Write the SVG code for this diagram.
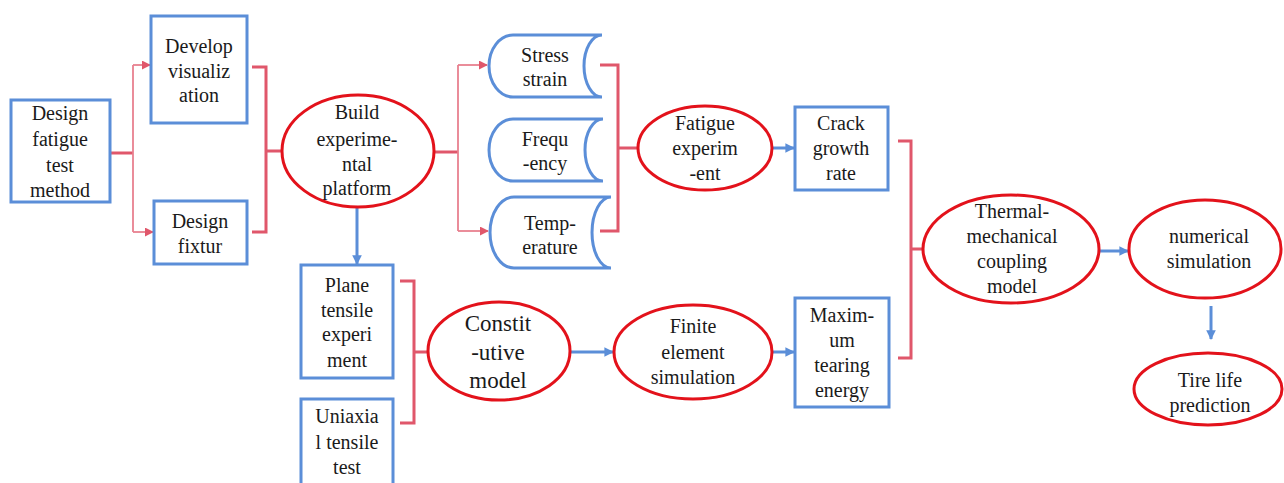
<svg xmlns="http://www.w3.org/2000/svg" width="1284" height="483" viewBox="0 0 1284 483">
<defs>
<style>
.box{fill:#fff;stroke:#5b8ed8;stroke-width:3}
.ell{fill:#fff;stroke:#e3121b;stroke-width:3}
.t{font-family:'Liberation Serif','DejaVu Serif',serif;font-size:20px;fill:#1a1a1a;text-anchor:middle}
.big{font-size:23px}
.pk{fill:none;stroke:#e0576b;stroke-width:3}
.pkt{fill:none;stroke:#e8808f;stroke-width:1.8}
.bl{fill:none;stroke:#5b8ed8;stroke-width:3}
</style>
<marker id="ap" viewBox="0 0 10 10" refX="9" refY="5" markerWidth="5" markerHeight="5" orient="auto" markerUnits="strokeWidth"><path d="M0,0 L10,5 L0,10 z" fill="#e0576b"/></marker>
<marker id="ab" viewBox="0 0 10 10" refX="9" refY="5" markerWidth="3.2" markerHeight="3.2" orient="auto" markerUnits="strokeWidth"><path d="M0,0 L10,5 L0,10 z" fill="#5b8ed8"/></marker>
</defs>
<rect width="1284" height="483" fill="#fff"/>

<g id="connectors">
<path class="pk" d="M110,153 H133"/>
<path class="pkt" d="M133,65 V232"/>
<path class="pkt" d="M133,65 H150" marker-end="url(#ap)"/>
<path class="pkt" d="M133,232 H153" marker-end="url(#ap)"/>
<path class="pk" d="M252,67 H266 V232 H252 M266,151 H282"/>
<path class="pk" d="M435,152 H458"/>
<path class="pkt" d="M458,65 V231"/>
<path class="pkt" d="M458,65 H487" marker-end="url(#ap)"/>
<path class="pkt" d="M458,231 H488" marker-end="url(#ap)"/>
<path class="pk" d="M600,65 H618 V231 H600 M618,148 H638"/>
<path class="bl" d="M773,148 H794" marker-end="url(#ab)"/>
<path class="bl" d="M357,207 V264" marker-end="url(#ab)"/>
<path class="pk" d="M400,281 H414 V423 H400 M414,352 H428"/>
<path class="bl" d="M570,352 H613" marker-end="url(#ab)"/>
<path class="bl" d="M773,352 H794" marker-end="url(#ab)"/>
<path class="pk" d="M898,141 H911 V358 H898 M911,249 H923"/>
<path class="bl" d="M1100,251 H1128" marker-end="url(#ab)"/>
<path class="bl" d="M1211,306 V339" marker-end="url(#ab)"/>
</g>

<g id="design-fatigue">
<rect class="box" x="11" y="100" width="99" height="102"/>
<text class="t" x="60" y="120">Design</text>
<text class="t" x="60" y="146">fatigue</text>
<text class="t" x="60" y="172">test</text>
<text class="t" x="60" y="197">method</text>
</g>

<g id="develop-visualization">
<rect class="box" x="151" y="16" width="96" height="107"/>
<text class="t" x="199" y="53">Develop</text>
<text class="t" x="199" y="78">visualiz</text>
<text class="t" x="199" y="102">ation</text>
</g>

<g id="design-fixtur">
<rect class="box" x="154" y="201" width="93" height="63"/>
<text class="t" x="200" y="228">Design</text>
<text class="t" x="200" y="253">fixtur</text>
</g>

<g id="build-platform">
<ellipse class="ell" cx="358" cy="151" rx="76" ry="56"/>
<text class="t" x="357" y="119">Build</text>
<text class="t" x="357" y="146">experime-</text>
<text class="t" x="357" y="171">ntal</text>
<text class="t" x="357" y="195">platform</text>
</g>

<g id="stress-strain">
<path class="box" d="M513,35 H602 A18,31 0 0 0 602,97 H513 A24,31 0 0 1 513,35 Z"/>
<text class="t" x="545" y="62">Stress</text>
<text class="t" x="545" y="86">strain</text>
</g>

<g id="frequency">
<path class="box" d="M513,119 H603 A18,31 0 0 0 603,181 H513 A24,31 0 0 1 513,119 Z"/>
<text class="t" x="545" y="146">Frequ</text>
<text class="t" x="545" y="170">-ency</text>
</g>

<g id="temperature">
<path class="box" d="M514,197 H611 A19,35.5 0 0 0 611,268 H514 A24,35.5 0 0 1 514,197 Z"/>
<text class="t" x="550" y="230">Temp-</text>
<text class="t" x="550" y="254">erature</text>
</g>

<g id="fatigue-experiment">
<ellipse class="ell" cx="705" cy="148" rx="67" ry="42"/>
<text class="t" x="705" y="130">Fatigue</text>
<text class="t" x="705" y="155">experim</text>
<text class="t" x="705" y="180">-ent</text>
</g>

<g id="crack-growth">
<rect class="box" x="795" y="107" width="93" height="83"/>
<text class="t" x="841" y="130">Crack</text>
<text class="t" x="841" y="155">growth</text>
<text class="t" x="841" y="180">rate</text>
</g>

<g id="plane-tensile">
<rect class="box" x="301" y="265" width="92" height="113"/>
<text class="t" x="347" y="292">Plane</text>
<text class="t" x="347" y="317">tensile</text>
<text class="t" x="347" y="341">experi</text>
<text class="t" x="347" y="367">ment</text>
</g>

<g id="uniaxial-tensile">
<rect class="box" x="301" y="399" width="92" height="95"/>
<text class="t" x="347" y="423">Uniaxia</text>
<text class="t" x="347" y="449">l tensile</text>
<text class="t" x="347" y="474">test</text>
</g>

<g id="constitutive-model">
<ellipse class="ell" cx="499" cy="351" rx="71" ry="49"/>
<text class="t big" x="498" y="331">Constit</text>
<text class="t big" x="498" y="360">-utive</text>
<text class="t big" x="498" y="388">model</text>
</g>

<g id="finite-element">
<ellipse class="ell" cx="693" cy="352" rx="79" ry="47"/>
<text class="t" x="693" y="333">Finite</text>
<text class="t" x="693" y="359">element</text>
<text class="t" x="693" y="384">simulation</text>
</g>

<g id="maximum-tearing">
<rect class="box" x="795" y="298" width="94" height="109"/>
<text class="t" x="842" y="322">Maxim-</text>
<text class="t" x="842" y="347">um</text>
<text class="t" x="842" y="372">tearing</text>
<text class="t" x="842" y="397">energy</text>
</g>

<g id="thermal-mechanical">
<ellipse class="ell" cx="1011" cy="249" rx="88" ry="54"/>
<text class="t" x="1012" y="218">Thermal-</text>
<text class="t" x="1012" y="243">mechanical</text>
<text class="t" x="1012" y="268">coupling</text>
<text class="t" x="1012" y="293">model</text>
</g>

<g id="numerical-simulation">
<ellipse class="ell" cx="1205" cy="249" rx="76" ry="49"/>
<text class="t" x="1209" y="243">numerical</text>
<text class="t" x="1209" y="268">simulation</text>
</g>

<g id="tire-life">
<ellipse class="ell" cx="1208" cy="389" rx="74" ry="36"/>
<text class="t" x="1210" y="387">Tire life</text>
<text class="t" x="1210" y="412">prediction</text>
</g>
</svg>
